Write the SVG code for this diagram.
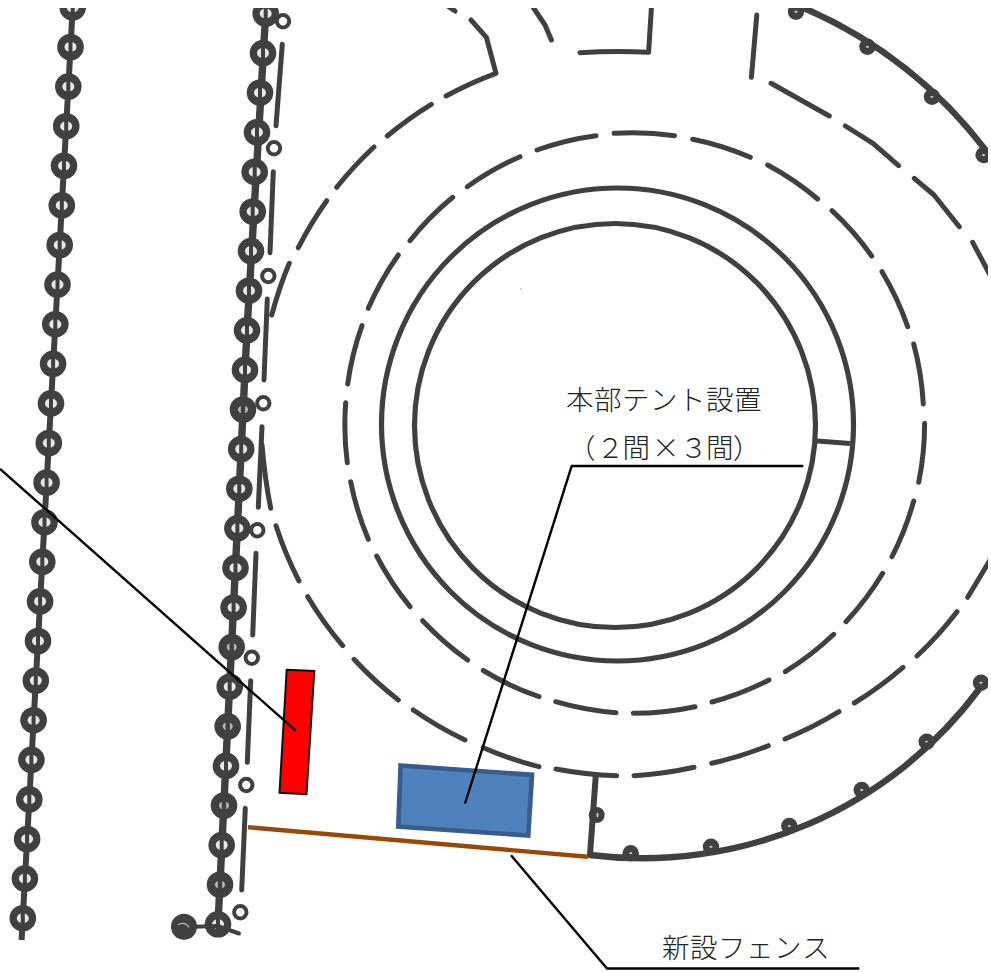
<svg xmlns="http://www.w3.org/2000/svg" xmlns:xlink="http://www.w3.org/1999/xlink" width="991" height="972" viewBox="0 0 991 972">
<style>
.d{fill:none;stroke:#404040;stroke-linecap:round;stroke-linejoin:round;stroke-width:5}
.ring{fill:none;stroke:#404040;stroke-width:5.2}
.arc{fill:none;stroke:#404040;stroke-width:6.4;stroke-linecap:round}
.o{fill:#fff;stroke:#404040;stroke-width:4}
.lead{fill:none;stroke:#000;stroke-width:2.4}
.t{font-family:"Noto Sans CJK JP",serif;font-size:27.5px;font-weight:300;fill:#222}
.dk{fill:#404040}
</style>
<defs>
<clipPath id="frame"><rect x="0" y="8" width="988" height="932"/></clipPath>
<g id="b"><circle r="13.3" class="dk"/><ellipse rx="6" ry="5" fill="#e8e8e8"/><rect x="-2" y="-6" width="4" height="12" class="dk"/></g>
<g id="b2"><circle r="13.3" class="dk"/><ellipse rx="5" ry="4" fill="#b8b8b8"/><rect x="-2.2" y="-6" width="4.4" height="12" class="dk"/></g>
<g id="p"><circle r="8.2" class="dk"/><ellipse rx="1.6" ry="1" fill="#ccc"/></g>
</defs>
<rect width="991" height="972" fill="#fff"/>
<g clip-path="url(#frame)">
<g id="chain-left">
<path d="M72.7 7.4L22.8 918.2L21.6 940" fill="none" stroke="#404040" stroke-width="6"/>
<use href="#b" x="72.7" y="7.4"/><use href="#b" x="70.5" y="47"/><use href="#b" x="68.3" y="86.6"/><use href="#b" x="66.2" y="126.2"/><use href="#b" x="64" y="165.8"/><use href="#b" x="61.8" y="205.4"/><use href="#b" x="59.7" y="245"/><use href="#b" x="57.5" y="284.6"/><use href="#b" x="55.3" y="324.2"/><use href="#b" x="53.1" y="363.8"/><use href="#b" x="51" y="403.4"/><use href="#b" x="48.8" y="443"/><use href="#b" x="46.6" y="482.6"/><use href="#b" x="44.5" y="522.2"/><use href="#b" x="42.3" y="561.8"/><use href="#b" x="40.1" y="601.4"/><use href="#b" x="38" y="641"/><use href="#b" x="35.8" y="680.6"/><use href="#b" x="33.6" y="720.2"/><use href="#b" x="31.4" y="759.8"/><use href="#b" x="29.3" y="799.4"/><use href="#b" x="27.1" y="839"/><use href="#b" x="24.9" y="878.6"/><use href="#b" x="22.8" y="918.2"/>
</g>
<g id="chain-middle">
<path d="M265.7 13.5L247 330.3L218 924.3" fill="none" stroke="#404040" stroke-width="7.4"/>
<use href="#b" x="265.7" y="13.5"/><use href="#b" x="263" y="53.1"/><use href="#b" x="260" y="92.7"/><use href="#b" x="257" y="132.3"/><use href="#b" x="254.7" y="171.9"/><use href="#b" x="252.7" y="211.5"/><use href="#b" x="251" y="251.1"/><use href="#b" x="249" y="290.7"/><use href="#b" x="247" y="330.3"/><use href="#b" x="245" y="369.9"/><use href="#b2" x="243" y="409.5"/><use href="#b" x="241.2" y="449.1"/><use href="#b" x="239.3" y="488.7"/><use href="#b" x="237.4" y="528.3"/><use href="#b" x="235.5" y="567.9"/><use href="#b" x="233.6" y="607.5"/><use href="#b2" x="231.7" y="647.1"/><use href="#b" x="229.7" y="686.7"/><use href="#b2" x="227.7" y="726.3"/><use href="#b" x="226" y="765.9"/><use href="#b2" x="224" y="805.5"/><use href="#b" x="221.7" y="845.1"/><use href="#b2" x="220" y="884.7"/><use href="#b" x="218" y="924.3"/>
<path d="M184 927L218 926L239 933.5" fill="none" stroke="#404040" stroke-width="4" stroke-linecap="round"/>
<circle cx="184" cy="926.7" r="13" class="dk"/><path d="M178 925Q184 921 189 927" fill="none" stroke="#bbb" stroke-width="1.2"/>
</g>
<g id="posts">
<circle class="o" cx="283" cy="21.3" r="6.2"/><circle class="o" cx="274" cy="148.3" r="6.2"/><circle class="o" cx="268.3" cy="276" r="6.2"/><circle class="o" cx="263.3" cy="403.3" r="6.2"/><circle class="o" cx="257.3" cy="530.3" r="6.2"/><circle class="o" cx="251.8" cy="657.7" r="6.2"/><circle class="o" cx="246.3" cy="785" r="6.2"/><circle class="o" cx="240.3" cy="912.3" r="6.2"/>
<path class="d" d="M282.3 44.3L276 125.7M273.3 171.7L270 252.7M267.3 299L264 380M262 426.7L258.3 507.3M256 553.3L252.7 635M250.7 680.7L247.3 762.3M245.3 808.3L241.7 890"/>
</g>
<g id="ring-outer">
<path class="d" d="M262 445Q265 480 270.7 508.3"/>
<path class="d" d="M289.3 263.3Q280 285 271.7 315"/>
<path class="d" d="M298.3 247.7A370 370 0 0 1 326.7 200.7M336.7 187.3A370 370 0 0 1 374 147M387.3 136A370 370 0 0 1 431.3 104.3M446 96A370 370 0 0 1 496 73.3L486.4 37.3L471 20M455 11L449 7M533.6 8L545 25L551.4 40M580 52.7Q615 50.5 648.6 52.3L651.4 8M756.8 15L751.4 77.3M771 83.3L829.3 116M845.4 126L873 143.3L898.6 165.7M914.3 178.3L934 195L959.3 226.7M972.7 242.3L990 275"/>
<path class="d" d="M276 525.7A370 370 0 0 0 299 581M307.7 596.7A370 370 0 0 0 342.7 645.7M354 659.3A370 370 0 0 0 398.3 700M413.3 710A370 370 0 0 0 465 740M483.3 747.7A370 370 0 0 0 539 766.7M556 769A370 370 0 0 0 616.7 775.7M634 775.7A370 370 0 0 0 694 767.3M711.7 763.3A370 370 0 0 0 768.3 745.7M785 739A370 370 0 0 0 839 711.7M854.3 703A370 370 0 0 0 903 667.3M917 656A370 370 0 0 0 957 611.7M967.7 597.3L990 560"/>
</g>
<g id="ring-dashed">
<path class="d" d="M347.7 384A290 290 0 0 1 362 325.7M368.3 308.3A290 290 0 0 1 398.3 255M410 240.7A290 290 0 0 1 452.7 197.3M467.3 186.7A290 290 0 0 1 520 156.7M537 150A290 290 0 0 1 596 135.7M614 133.3A290 290 0 0 1 674.6 135.7M692.7 139.3A290 290 0 0 1 750.3 157.3M767.7 165A290 290 0 0 1 817.7 199M832 210.7A290 290 0 0 1 871.7 256M882 271.7A290 290 0 0 1 907.7 326.7M913.7 344A290 290 0 0 1 923.3 404M924.6 423.3A290 290 0 0 1 918.7 482.3M913.7 501A290 290 0 0 1 892 556.7M882.7 573.3A290 290 0 0 1 846 621.7M833.7 634.3A290 290 0 0 1 785.3 671.7M769 680A290 290 0 0 1 712 702M695 706.7A290 290 0 0 1 633.3 713.3M616 712.7A290 290 0 0 1 555.7 701.7M539 696.7A290 290 0 0 1 483.3 670.5M467.7 660A290 290 0 0 1 422.7 620.7M410 606.7A290 290 0 0 1 376.7 556M368.3 539.3A290 290 0 0 1 350.7 481.7M347.3 462.7A290 290 0 0 1 345.7 402.7"/>
</g>
<g id="ring-track">
<ellipse class="ring" cx="615" cy="425.5" rx="200.5" ry="202"/>
<ellipse class="ring" cx="617.5" cy="424.5" rx="236" ry="236.5"/>
<path d="M814.3 440.7L850 443.5" fill="none" stroke="#404040" stroke-width="5"/>
</g>
<g id="outer-wall">
<use href="#p" x="796" y="11.7"/><use href="#p" x="867.5" y="46.7"/><use href="#p" x="932" y="96.7"/><use href="#p" x="983.6" y="155"/>
<path class="arc" d="M806 9A450 450 0 0 1 987 152"/>
<use href="#p" x="630.7" y="853.3"/><use href="#p" x="711" y="846.7"/><use href="#p" x="789.3" y="826"/><use href="#p" x="861.7" y="790"/><use href="#p" x="926.7" y="741.7"/><use href="#p" x="981" y="682.7"/>
<path class="arc" d="M590 855A420 420 0 0 0 980 688"/>
<circle cx="596.7" cy="815" r="8" class="dk"/><ellipse cx="597.5" cy="815" rx="1" ry="2.5" fill="#ccc"/>
<path d="M596 772.5L590 855" fill="none" stroke="#404040" stroke-width="6"/>
</g>
</g>
<circle cx="521" cy="289" r="0.8" fill="#999"/>
<g id="red-area"><polygon points="286.7,669.8 314.3,671 306.5,794.3 279.5,792.7" fill="#f00" stroke="#111" stroke-width="2"/></g>
<g id="tent"><polygon points="400.6,765.5 532,774.8 528.2,835.5 398.3,826.5" fill="#4f81bd" stroke="#385d8a" stroke-width="4.7"/></g>
<g id="new-fence"><path d="M248 827.2L588 856.8" fill="none" stroke="#984807" stroke-width="4.4"/></g>
<g id="connectors">
<path class="lead" d="M0 468.8L295.7 730.7"/>
<path class="lead" d="M803.3 466H571.7L465 803.5"/>
<path class="lead" d="M511 855.3L607 968.5H859.3"/>
</g>
<g id="label-tent">
<text class="t" x="566 594 622 650 678 706 734" y="410">本部テント設置</text>
<text class="t" x="568 596.5 622.5 652 680 706 733" y="458">（２間×３間）</text>
</g>
<g id="label-fence"><text class="t" x="662 690 718 746 774 802" y="958">新設フェンス</text></g>
</svg>
